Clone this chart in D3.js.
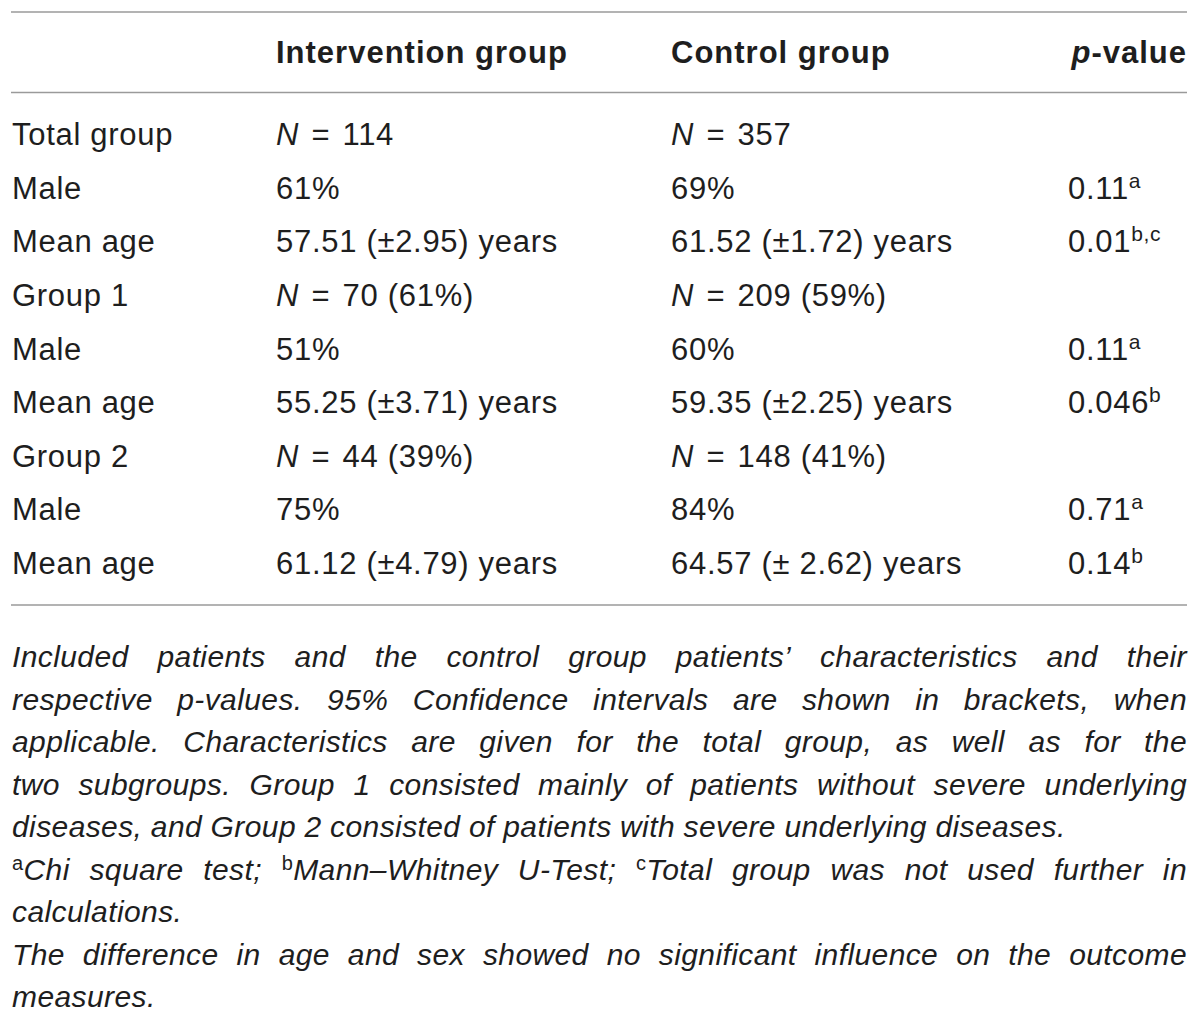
<!DOCTYPE html>
<html lang="en">
<head>
    <meta charset="utf-8" />
    <title>Patient characteristics</title>
    <script src="https://d3js.org/d3.v7.min.js"></script>
    <style>
        body { margin: 0; background: #fff; }
        text { font-family: "Liberation Sans", Arial, sans-serif; fill: #1e1e1e; }
    </style>
</head>
<body>
    <script>
        // table content
        const columns = ["Intervention group", "Control group", "p-value"];
        const rowLabels = ["Total group", "Male", "Mean age", "Group 1", "Male", "Mean age", "Group 2", "Male", "Mean age"];
        const intervention = ["N = 114", "61%", "57.51 (\u00b12.95) years", "N = 70 (61%)", "51%", "55.25 (\u00b13.71) years", "N = 44 (39%)", "75%", "61.12 (\u00b14.79) years"];
        const control = ["N = 357", "69%", "61.52 (\u00b11.72) years", "N = 209 (59%)", "60%", "59.35 (\u00b12.25) years", "N = 148 (41%)", "84%", "64.57 (\u00b1 2.62) years"];
        const pValues = ["", "0.11", "0.01", "", "0.11", "0.046", "", "0.71", "0.14"];
        const pNotes = ["", "a", "b,c", "", "a", "b", "", "a", "b"];

        // caption, ^x marks a superscript at the start of a word
        const captionLines = [
            "Included patients and the control group patients\u2019 characteristics and their",
            "respective p-values. 95% Confidence intervals are shown in brackets, when",
            "applicable. Characteristics are given for the total group, as well as for the",
            "two subgroups. Group 1 consisted mainly of patients without severe underlying",
            "diseases, and Group 2 consisted of patients with severe underlying diseases.",
            "^aChi square test; ^bMann\u2013Whitney U-Test; ^cTotal group was not used further in",
            "calculations.",
            "The difference in age and sex showed no significant influence on the outcome",
            "measures."
        ];
        const captionJustify = [true, true, true, true, false, true, false, true, false];

        const width = 1200, height = 1023;
        const left = 11, right = 1187;

        const svg = d3.select("body").append("svg")
            .attr("width", width)
            .attr("height", height);

        const colX = d3.scaleOrdinal()
            .domain(["label", "intervention", "control", "p"])
            .range([12, 276, 671, 1068]);

        const rowY = d3.scaleLinear()
            .domain([0, rowLabels.length - 1])
            .range([145, 574]);

        // rules
        svg.selectAll("line.rule")
            .data([12, 92.5, 605])
            .join("line")
            .attr("class", "rule")
            .attr("x1", left).attr("x2", right)
            .attr("y1", d => d).attr("y2", d => d)
            .attr("stroke", "#9a9a9a")
            .attr("stroke-width", 1.6);

        // header
        const head = svg.append("g").attr("font-size", 31).attr("letter-spacing", 1);
        head.append("text").attr("x", colX("intervention")).attr("y", 63)
            .style("font-weight", 700).text(columns[0]);
        head.append("text").attr("x", colX("control")).attr("y", 63)
            .style("font-weight", 700).text(columns[1]);
        const ph = head.append("text").attr("x", 1187).attr("y", 63)
            .attr("text-anchor", "end").style("font-weight", 700);
        ph.append("tspan").style("font-style", "italic").text(columns[2].slice(0, 1));
        ph.append("tspan").text(columns[2].slice(1));

        // cell text, a leading "N" is set in italics, "=" gets a bit more room
        function cell(sel, s) {
            if (s.startsWith("N ")) {
                sel.append("tspan").style("font-style", "italic").text("N");
                sel.append("tspan").attr("dx", 3).text(" =");
                sel.append("tspan").attr("dx", 3).text(s.slice(3));
            } else {
                sel.text(s);
            }
        }

        const body = svg.append("g").attr("font-size", 31).attr("letter-spacing", 0.7);
        rowLabels.forEach((lab, i) => {
            const y = rowY(i);
            body.append("text").attr("x", colX("label")).attr("y", y).text(lab);
            body.append("text").attr("x", colX("intervention")).attr("y", y).call(cell, intervention[i]);
            body.append("text").attr("x", colX("control")).attr("y", y).call(cell, control[i]);
            if (pValues[i]) {
                const t = body.append("text").attr("x", colX("p")).attr("y", y);
                t.append("tspan").text(pValues[i]);
                t.append("tspan").attr("font-size", 21).attr("dy", -11).text(pNotes[i]);
            }
        });

        // caption, justified line by line
        const capY = d3.scaleLinear().domain([0, captionLines.length - 1]).range([667, 1007]);
        const cap = svg.append("g").attr("font-size", 30).attr("letter-spacing", 0.4);

        function word(sel, w) {
            if (w.startsWith("^")) {
                sel.append("tspan").attr("font-size", 20).attr("dy", -10).text(w.slice(1, 2));
                sel.append("tspan").attr("dy", 10).style("font-style", "italic").text(w.slice(2));
            } else {
                sel.append("tspan").style("font-style", "italic").text(w);
            }
        }

        captionLines.forEach((line, i) => {
            const words = line.split(" ");
            const y = capY(i);
            const nodes = words.map(w => cap.append("text").attr("y", y).call(word, w));
            const widths = nodes.map(n => n.node().getComputedTextLength());
            const total = d3.sum(widths);
            const gap = captionJustify[i] && words.length > 1
                ? (right - 12 - total) / (words.length - 1)
                : 8.5;
            let x = 12;
            nodes.forEach((n, k) => {
                n.attr("x", x);
                x += widths[k] + gap;
            });
        });
    </script>
</body>
</html>
